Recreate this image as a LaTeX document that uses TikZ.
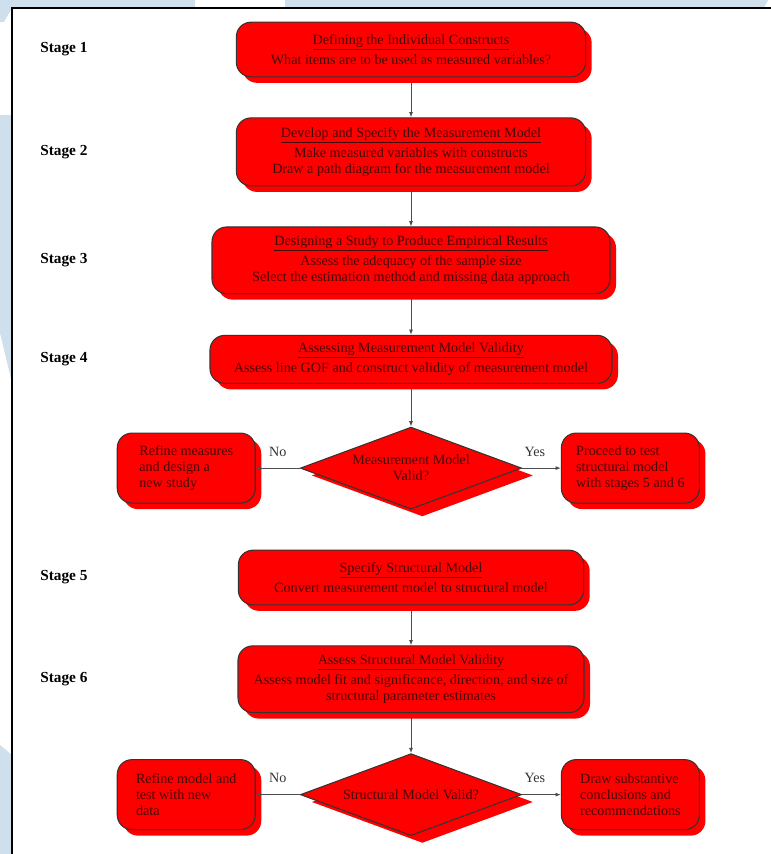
\documentclass[tikz,border=0pt]{standalone}
\usepackage{fontspec}
\setmainfont{Liberation Serif}
\usetikzlibrary{arrows.meta, positioning, shapes.geometric, shadows}
\definecolor{wmblue}{RGB}{207,223,236}
\definecolor{boxred}{RGB}{255,0,0}
\definecolor{inkred}{RGB}{70,8,8}

\begin{document}
\begin{tikzpicture}[
  x=0.75pt, y=-0.75pt,
  node distance=31pt and 31pt,
  box/.style={draw=black!80, line width=0.8pt, fill=boxred, rounded corners=11pt, align=center,
    text=inkred, font=\fontsize{10.6}{12}\selectfont, inner sep=2pt,
    general shadow={fill=boxred, shadow xshift=4.5pt, shadow yshift=-4.5pt}},
  sidebox/.style={box, align=left, minimum width=103.5pt, minimum height=52.5pt},
  decide/.style={diamond, draw=black!80, line width=0.8pt, fill=boxred, aspect=3, inner sep=0pt,
    align=center, text=inkred, font=\fontsize{10.6}{12}\selectfont,
    minimum width=166pt, minimum height=61.5pt,
    general shadow={fill=boxred, shadow xshift=8.5pt, shadow yshift=-5.5pt}},
  stage/.style={anchor=west, inner sep=0pt, font=\fontsize{11.5}{13}\selectfont\bfseries},
  lbl/.style={font=\fontsize{10.6}{12}\selectfont, text=black!80},
  arr/.style={-{Latex[length=4pt, width=3pt]}, draw=black!70, line width=0.6pt}
]
\useasboundingbox (0,0) rectangle (771,854);
% watermark and frame
\fill[wmblue] (0,0) -- (195,0) -- (195,8) -- (12,8) -- (4,22) -- (0,22) -- cycle;
\fill[wmblue] (285,0) -- (768,0) -- (764,8) -- (285,8) -- cycle;
\fill[wmblue] (0,115) -- (12,115) -- (12,383) -- (0,333) -- cycle;
\fill[wmblue] (0,745) -- (12,755) -- (12,854) -- (0,854) -- cycle;
\draw[line width=1.1pt] (12,854) |- (771,8);

\node[box, minimum width=262pt, minimum height=41pt] (m1) at (411,49.5)
  {\underline{Defining the Individual Constructs}\\[3pt]What items are to be used as measured variables?};
\node[box, below=30pt of m1, minimum width=262pt, minimum height=51pt] (m2)
  {\underline{Develop and Specify the Measurement Model}\\[3pt]Make measured variables with constructs\\Draw a path diagram for the measurement model};
\node[box, below=30pt of m2, minimum width=298.5pt, minimum height=50pt] (m3)
  {\underline{Designing a Study to Produce Empirical Results}\\[3pt]Assess the adequacy of the sample size\\Select the estimation method and missing data approach};
\node[box, below=30.5pt of m3, minimum width=301.5pt, minimum height=36pt] (m4)
  {\underline{Assessing Measurement Model Validity}\\[3pt]Assess line GOF and construct validity of measurement model};
\node[decide, below=32pt of m4] (d1) {Measurement Model\\Valid?};
\node[sidebox, left=33pt of d1] (n1) {Refine measures\\and design a\\new study};
\node[sidebox, right=29pt of d1] (y1) {Proceed to test\\structural model\\with stages 5 and 6};

\node[box, below=30pt of d1, minimum width=259pt, minimum height=41pt] (m5)
  {\underline{Specify Structural Model}\\[3pt]Convert measurement model to structural model};
\node[box, below=30pt of m5, minimum width=259.5pt, minimum height=50pt] (m6)
  {\underline{Assess Structural Model Validity}\\[3pt]Assess model fit and significance, direction, and size of\\structural parameter estimates};
\node[decide, below=30pt of m6] (d2) {Structural Model Valid?};
\node[sidebox, left=33pt of d2] (n2) {Refine model and\\test with new\\data};
\node[sidebox, right=29pt of d2] (y2) {Draw substantive\\conclusions and\\recommendations};

\coordinate (stx) at (40,0);
\node[stage] (s1) at (m1 -| stx) {Stage 1};
\node[stage] (s2) at (m2 -| stx) {Stage 2};
\node[stage] (s3) at (m3 -| stx) {Stage 3};
\node[stage] (s4) at (m4 -| stx) {Stage 4};
\node[stage] (s5) at (m5 -| stx) {Stage 5};
\node[stage] (s6) at (m6 -| stx) {Stage 6};

\draw[arr] (m1)--(m2); \draw[arr] (m2)--(m3); \draw[arr] (m3)--(m4); \draw[arr] (m4)--(d1);
\draw[arr] (d1.west)--(n1.east) node[lbl, midway, above=5pt] {No};
\draw[arr] (d1.east)--(y1.west) node[lbl, midway, above=5pt, xshift=-5pt] {Yes};
\draw[arr] (m5)--(m6); \draw[arr] (m6)--(d2);
\draw[arr] (d2.west)--(n2.east) node[lbl, midway, above=5pt] {No};
\draw[arr] (d2.east)--(y2.west) node[lbl, midway, above=5pt, xshift=-5pt] {Yes};
\end{tikzpicture}
\end{document}
